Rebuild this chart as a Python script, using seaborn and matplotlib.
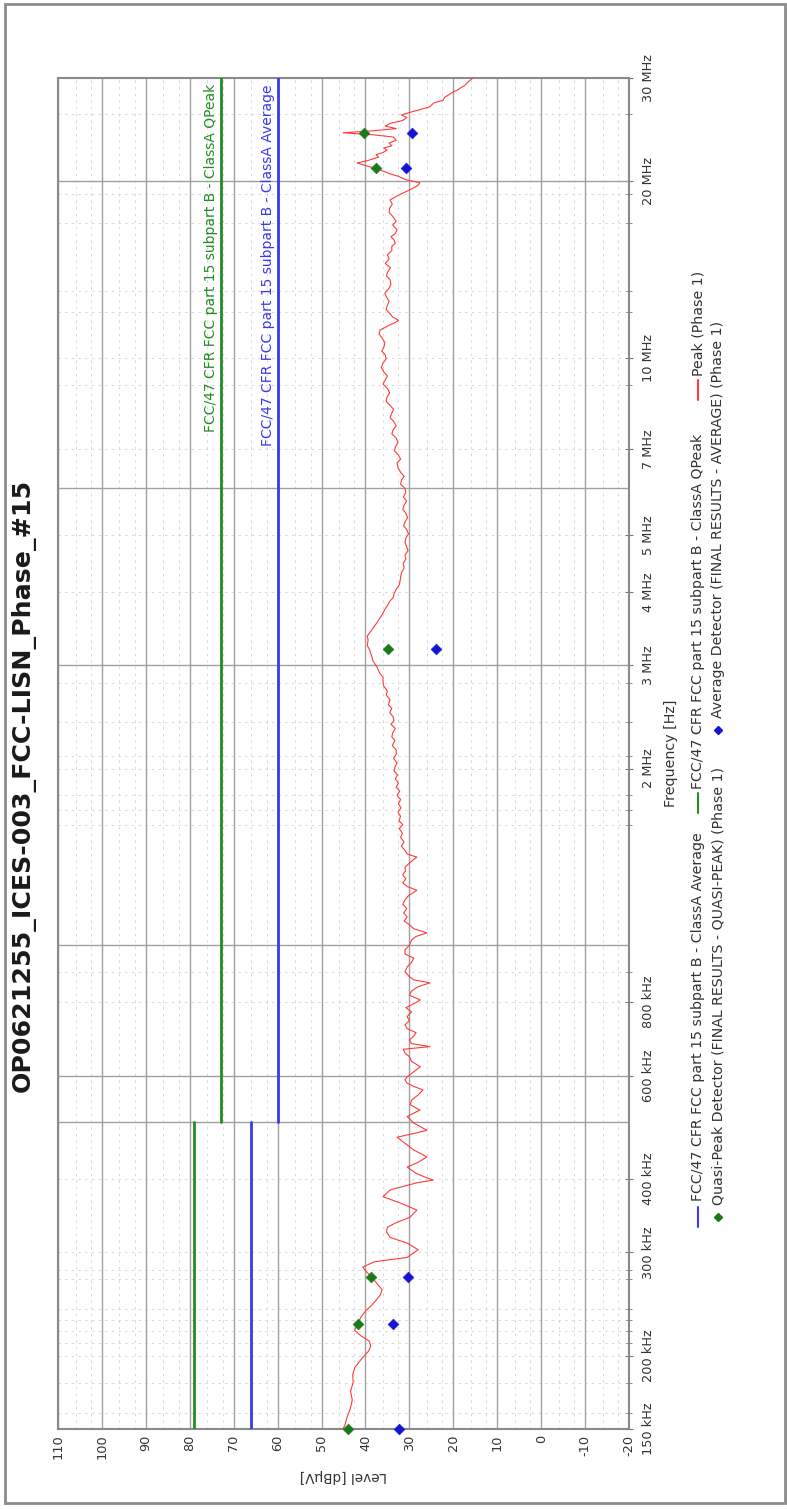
import matplotlib
matplotlib.use('Agg')
import numpy as np
import pandas as pd
import matplotlib.pyplot as plt
import seaborn as sns
from matplotlib.lines import Line2D
from matplotlib.patches import Rectangle
from matplotlib.ticker import FixedLocator, NullFormatter

#%% data
title = 'OP0621255_ICES-003_FCC-LISN_Phase_#15'

# Peak trace (Phase 1), frequency in MHz and level in dBuV
peak_freq_mhz = [
    0.150, 0.153, 0.157, 0.162, 0.168, 0.174, 0.180, 0.186, 0.191, 0.197,
    0.204, 0.208, 0.212, 0.216, 0.221, 0.226, 0.233, 0.239, 0.244, 0.249,
    0.254, 0.259, 0.266, 0.272, 0.278, 0.283, 0.289, 0.294, 0.303, 0.311,
    0.318, 0.325, 0.331, 0.337, 0.344, 0.354, 0.364, 0.373, 0.383, 0.394,
    0.398, 0.403, 0.409, 0.419, 0.427, 0.436, 0.448, 0.460, 0.471, 0.478,
    0.484, 0.491, 0.498, 0.511, 0.524, 0.535, 0.545, 0.556, 0.567, 0.575,
    0.582, 0.590, 0.597, 0.609, 0.621, 0.634, 0.646, 0.655, 0.665, 0.672,
    0.680, 0.690, 0.700, 0.710, 0.721, 0.732, 0.744, 0.756, 0.770, 0.783,
    0.795, 0.807, 0.822, 0.836, 0.850, 0.863, 0.873, 0.884, 0.901, 0.919,
    0.935, 0.951, 0.966, 0.982, 1.000, 1.021, 1.035, 1.050, 1.067, 1.084,
    1.100, 1.116, 1.135, 1.155, 1.175, 1.194, 1.215, 1.230, 1.241, 1.259,
    1.277, 1.298, 1.318, 1.338, 1.358, 1.380, 1.400, 1.413, 1.430, 1.450,
    1.475, 1.500, 1.525, 1.552, 1.580, 1.605, 1.630, 1.658, 1.685, 1.715,
    1.741, 1.771, 1.800, 1.830, 1.860, 1.889, 1.920, 1.950, 1.980, 2.010,
    2.045, 2.080, 2.115, 2.150, 2.190, 2.230, 2.265, 2.300, 2.340, 2.380,
    2.410, 2.450, 2.490, 2.530, 2.570, 2.620, 2.670, 2.710, 2.760, 2.800,
    2.860, 2.910, 2.970, 3.010, 3.050, 3.110, 3.180, 3.240, 3.310, 3.360,
    3.410, 3.490, 3.580, 3.680, 3.730, 3.790, 3.850, 3.910, 3.970, 4.040,
    4.110, 4.180, 4.240, 4.310, 4.390, 4.470, 4.550, 4.620, 4.700, 4.770,
    4.850, 4.940, 5.020, 5.100, 5.180, 5.260, 5.350, 5.440, 5.530, 5.620,
    5.710, 5.800, 5.900, 6.000, 6.100, 6.200, 6.290, 6.390, 6.510, 6.630,
    6.730, 6.840, 6.950, 7.060, 7.180, 7.310, 7.430, 7.550, 7.670, 7.790,
    7.920, 8.060, 8.180, 8.310, 8.440, 8.580, 8.730, 8.880, 9.030, 9.180,
    9.320, 9.470, 9.640, 9.810, 9.970, 10.13, 10.28, 10.44, 10.63, 10.82,
    10.99, 11.16, 11.28, 11.39, 11.50, 11.60, 11.75, 11.92, 12.10, 12.30,
    12.50, 12.70, 12.90, 13.10, 13.35, 13.60, 13.80, 14.00, 14.25, 14.50,
    14.75, 15.00, 15.25, 15.50, 15.70, 15.90, 16.10, 16.30, 16.55, 16.85,
    17.10, 17.40, 17.70, 18.00, 18.30, 18.60, 18.85, 19.10, 19.30, 19.50,
    19.70, 19.90, 20.10, 20.25, 20.40, 20.60, 20.90, 21.10, 21.30, 21.50,
    21.70, 22.00, 22.20, 22.40, 22.60, 22.80, 23.00, 23.25, 23.50, 23.80,
    24.00, 24.20, 24.40, 24.60, 24.85, 25.10, 25.40, 25.70, 25.95, 26.20,
    26.50, 26.80, 27.20, 27.50, 27.80, 28.10, 28.35, 28.60, 28.85, 29.10,
    29.40, 29.70, 30.00,
]
peak_level = [
    45.1, 44.6, 44.2, 43.5, 43.0, 43.4, 42.8, 42.9, 42.4, 41.0,
    39.2, 38.8, 39.2, 41.0, 42.5, 41.8, 41.0, 39.8, 38.5, 37.5,
    36.6, 36.2, 37.5, 38.5, 39.8, 40.6, 38.0, 30.5, 28.0, 30.5,
    34.4, 35.2, 35.0, 33.0, 29.9, 28.3, 32.1, 36.0, 34.4, 28.3,
    24.6, 26.5, 28.5, 30.5, 28.0, 26.0, 29.0, 31.0, 32.8, 29.0,
    26.0, 27.5, 29.0, 30.5, 27.6, 29.8, 29.5, 28.0, 26.9, 29.0,
    30.5, 31.0, 30.5, 29.0, 27.5, 29.5, 30.0, 31.0, 31.4, 25.3,
    29.5, 30.0, 29.0, 28.5, 30.5, 31.0, 30.0, 30.5, 29.5, 30.8,
    29.0, 27.5, 30.0, 29.5, 28.0, 25.3, 29.0, 30.0, 31.0, 30.5,
    29.5, 29.0, 31.0, 31.0, 30.0, 29.5, 28.5, 26.0, 29.0, 30.0,
    31.2, 30.5, 31.3, 30.6, 31.5, 31.0, 30.2, 29.0, 28.3, 30.5,
    31.5, 30.8, 31.5, 30.9, 31.0, 30.0, 29.0, 28.3, 30.5, 31.0,
    31.8, 31.2, 32.0, 31.6, 32.3, 31.5, 32.4, 32.0, 32.6, 31.9,
    32.5, 32.0, 32.8, 32.2, 33.0, 32.5, 33.2, 32.7, 33.5, 33.3,
    32.8, 33.6, 33.0, 33.0, 33.9, 33.3, 34.0, 33.8, 33.2, 34.2,
    33.5, 33.7, 34.5, 34.0, 34.8, 34.4, 35.3, 35.0, 35.8, 36.0,
    36.0, 36.8, 37.3, 37.8, 38.3, 38.6, 39.0, 39.6, 39.4, 39.6,
    39.0, 38.0, 37.0, 36.0, 35.6, 35.0, 34.5, 33.7, 33.5, 33.0,
    32.3, 32.1, 32.0, 31.8, 31.2, 31.4, 30.8, 31.0, 30.3, 30.6,
    31.0, 30.8, 30.2, 30.6, 31.3, 31.0, 30.4, 30.8, 31.5, 31.2,
    30.6, 31.4, 30.8, 31.0, 32.0, 31.8, 31.2, 32.0, 32.6, 32.8,
    32.0, 32.5, 33.4, 33.2, 32.6, 33.0, 34.0, 33.7, 33.0, 33.5,
    34.4, 34.0, 33.6, 34.4, 35.3, 35.1, 34.5, 35.0, 36.0, 35.5,
    35.0, 35.8, 36.4, 36.0, 35.3, 35.5, 36.3, 35.8, 35.6, 36.2,
    36.9, 36.7, 35.5, 34.5, 33.2, 32.5, 33.8, 34.5, 35.3, 35.0,
    34.6, 35.2, 35.6, 34.8, 34.2, 34.4, 35.2, 35.0, 34.3, 35.5,
    34.6, 35.0, 34.0, 34.0, 33.2, 33.5, 34.2, 33.2, 32.8, 33.8,
    33.0, 33.7, 34.6, 34.5, 33.9, 34.4, 33.0, 31.5, 30.2, 29.0,
    28.0, 27.6, 30.5, 31.6, 32.5, 34.4, 36.5, 38.3, 40.0, 41.9,
    39.5, 37.0, 37.6, 36.0, 35.1, 35.8, 34.0, 34.6, 33.0, 33.7,
    38.0, 45.1, 38.0, 33.0, 35.5, 34.4, 31.5, 30.6, 31.8, 30.0,
    27.6, 25.3, 24.5, 22.3, 22.0, 21.0, 20.2, 19.1, 18.4, 17.5,
    16.9, 16.3, 15.5,
]

# final measurement results
final_freq_mhz = [0.150, 0.226, 0.272, 3.20, 21.1, 24.2]
qp_level = [44.0, 41.7, 38.7, 34.9, 37.6, 40.3]
avg_level = [32.4, 33.7, 30.3, 23.9, 30.8, 29.4]

# FCC part 15 class A limits (two ranges)
limit_freq_mhz = [0.15, 0.5, 0.5, 30.0]
limit_range = [1, 1, 2, 2]
limit_qp = [79, 79, 73, 73]
limit_avg = [66, 66, 60, 60]

level_ticks = [110, 100, 90, 80, 70, 60, 50, 40, 30, 20, 10, 0, -10, -20]
freq_tick_mhz = [0.15, 0.2, 0.3, 0.4, 0.6, 0.8, 2, 3, 4, 5, 7, 10, 20, 30]
freq_tick_labels = ['150 kHz', '200 kHz', '300 kHz', '400 kHz', '600 kHz', '800 kHz',
                    '2 MHz', '3 MHz', '4 MHz', '5 MHz', '7 MHz', '10 MHz', '20 MHz', '30 MHz']
freq_solid_grid_mhz = [0.5, 0.6, 1.0, 3.0, 6.0, 20.0]
freq_dash_grid_mhz = [0.16, 0.18, 0.21, 0.22, 0.23, 0.24, 0.27, 0.28, 0.9,
                      1.6, 1.7, 1.8, 2.1, 2.4, 2.8, 9, 12, 13, 17, 19, 26]

peak_df = pd.DataFrame({'Frequency': np.array(peak_freq_mhz) * 1e6, 'Level': peak_level})
final_df = pd.DataFrame({'Frequency': np.array(final_freq_mhz) * 1e6,
                         'QP': qp_level, 'AV': avg_level})
limit_df = pd.DataFrame({'Frequency': np.array(limit_freq_mhz) * 1e6, 'Range': limit_range,
                         'QP': limit_qp, 'AV': limit_avg})

#%% style
sns.set_style('white')
plt.rcParams['font.family'] = ['DejaVu Sans']

W, H = 787, 1509
GREEN = '#228b22'
BLUE = '#3a3ae8'
RED = '#ff3b3b'
GRID = '#a0a0a0'
TXT = '#333333'


def px(x, y):
    return x / W, 1 - y / H


fig = plt.figure(figsize=(W / 100, H / 100), dpi=100)
fig.patches.append(Rectangle(px(5, 1503), 780 / W, 1499 / H, transform=fig.transFigure,
                             fill=False, edgecolor='#8c8c8c', linewidth=2))
ax = fig.add_axes([58 / W, (H - 1429) / H, 571 / W, 1351 / H])

# grid
for lv in np.arange(-20, 110, 10):
    for off in (2.5, 6):
        ax.axvline(lv + off, color='#d2d2d2', lw=0.6, ls=(0, (3, 5)), zorder=0)
for f in freq_dash_grid_mhz + [0.2, 0.3, 0.4, 0.8, 2, 4, 5, 7, 10]:
    ax.axhline(f * 1e6, color='#d2d2d2', lw=0.6, ls=(0, (3, 5)), zorder=0)
for lv in level_ticks:
    ax.axvline(lv, color=GRID, lw=1.0, zorder=1)
for f in freq_solid_grid_mhz:
    ax.axhline(f * 1e6, color=GRID, lw=1.0, zorder=1)

# limits
sns.lineplot(data=limit_df, x='QP', y='Frequency', units='Range', estimator=None,
             orient='y', sort=False, color=GREEN, lw=2, ax=ax, zorder=3)
sns.lineplot(data=limit_df, x='AV', y='Frequency', units='Range', estimator=None,
             orient='y', sort=False, color=BLUE, lw=2, ax=ax, zorder=3)

# peak trace
sns.lineplot(data=peak_df, x='Level', y='Frequency', estimator=None, orient='y',
             sort=False, color=RED, lw=0.8, ax=ax, zorder=4)

# final results
sns.scatterplot(data=final_df, x='QP', y='Frequency', marker='D', s=30, color='#1a7a1a',
                edgecolor='#1a7a1a', ax=ax, zorder=5, clip_on=False)
sns.scatterplot(data=final_df, x='AV', y='Frequency', marker='D', s=30, color='#1414d2',
                edgecolor='#1414d2', ax=ax, zorder=5, clip_on=False)

# limit captions
ax.text(73.6, 29.3e6, 'FCC/47 CFR FCC part 15 subpart B - ClassA QPeak', rotation=90,
        ha='right', va='top', color=GREEN, fontsize=10, zorder=6)
ax.text(60.6, 29.3e6, 'FCC/47 CFR FCC part 15 subpart B - ClassA Average', rotation=90,
        ha='right', va='top', color=BLUE, fontsize=10, zorder=6)

# axes
ax.set_yscale('log')
ax.set_xlim(110, -20)
ax.set_ylim(0.15e6, 30e6)
ax.xaxis.set_major_locator(FixedLocator(level_ticks))
ax.xaxis.set_minor_locator(FixedLocator(np.arange(-20, 110.1, 2.5)))
ax.set_xticklabels([str(v) for v in level_ticks])
ax.yaxis.set_major_locator(FixedLocator(np.array(freq_tick_mhz) * 1e6))
ax.yaxis.set_minor_locator(FixedLocator(np.array(freq_dash_grid_mhz) * 1e6))
ax.yaxis.set_minor_formatter(NullFormatter())
ax.set_yticklabels(freq_tick_labels)
ax.yaxis.tick_right()
ax.yaxis.set_label_position('right')
ax.tick_params(axis='x', which='major', direction='in', length=4, labelrotation=90,
               labelsize=9.3, labelcolor=TXT, color='#777777', pad=4)
ax.tick_params(axis='x', which='minor', direction='in', length=3, color='#777777')
ax.tick_params(axis='y', which='major', direction='inout', length=6, labelrotation=90,
               labelsize=9.3, labelcolor=TXT, color='#777777', pad=6)
ax.tick_params(axis='y', which='minor', direction='inout', length=4, color='#777777')
for lab in ax.get_yticklabels():
    lab.set_va('center')
ax.set_xlabel('Level [dBµV]', rotation=180, fontsize=9.8, color=TXT, labelpad=7)
ax.set_ylabel('Frequency [Hz]', rotation=90, fontsize=10.3, color=TXT, labelpad=7)
for sp in ax.spines.values():
    sp.set_color('#8a8a8a')
    sp.set_linewidth(1.5)

# title
fig.text(*px(23, 785), title, rotation=90, ha='center', va='center',
         fontsize=18.2, fontweight='bold', color='#1a1a1a')

# legend, drawn rotated like the rest of the page
legend_rows = [
    (698, [('line', BLUE, 1217, 1201, 'FCC/47 CFR FCC part 15 subpart B - ClassA Average'),
           ('line', GREEN, 803, 789, 'FCC/47 CFR FCC part 15 subpart B - ClassA QPeak'),
           ('line', RED, 390, 376, 'Peak (Phase 1)')]),
    (718, [('dot', '#1a7a1a', 1217, 1205, 'Quasi-Peak Detector (FINAL RESULTS - QUASI-PEAK) (Phase 1)'),
           ('dot', '#1414d2', 730, 718, 'Average Detector (FINAL RESULTS - AVERAGE) (Phase 1)')]),
]
for xr, items in legend_rows:
    for kind, col, yh, yt, label in items:
        if kind == 'line':
            fig.add_artist(Line2D([xr / W, xr / W], [1 - (yh - 10) / H, 1 - (yh + 10) / H],
                                  transform=fig.transFigure, color=col, lw=1.5))
        else:
            fig.add_artist(Line2D([xr / W], [1 - yh / H], transform=fig.transFigure,
                                  marker='D', ms=4.5, color=col, lw=0))
        fig.text(*px(xr, yt), label, rotation=90, rotation_mode='anchor', ha='left',
                 va='center', fontsize=10.2, color=TXT)

fig.savefig('out.png', dpi=100)
